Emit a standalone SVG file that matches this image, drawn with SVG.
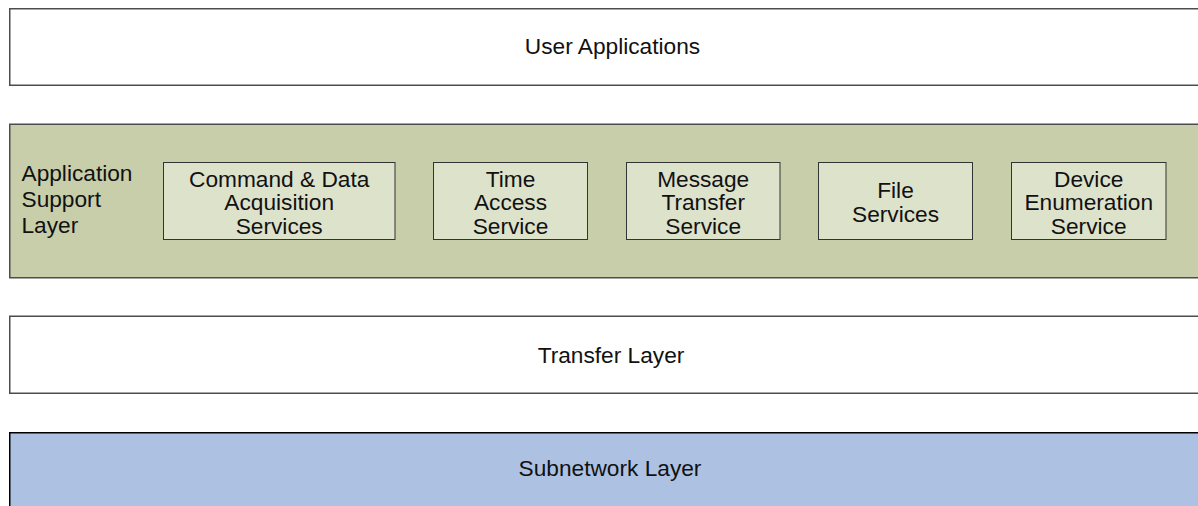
<svg xmlns="http://www.w3.org/2000/svg" width="1198" height="506" viewBox="0 0 1198 506">
<style>
.layer{stroke:#4d4d4d;stroke-width:1.5}
.white{fill:#ffffff}
.green{fill:#c7cea9}
.blue{fill:#adc2e2;stroke:#000000;stroke-width:1.5}
.svc{fill:#dde2cb;stroke:#333333;stroke-width:1}
text{font-family:"Liberation Sans",Arial,sans-serif;font-size:22.7px;fill:#111111}
.c{text-anchor:middle}
</style>
<rect width="1198" height="506" fill="#ffffff"/>
<g id="user-applications">
<rect class="layer white" x="9.75" y="8.75" width="1210" height="76.5"/>
<text class="c" x="612.5" y="54">User Applications</text>
</g>
<g id="application-support-layer">
<rect class="layer green" x="9.75" y="124.25" width="1210" height="153.5"/>
<text x="21.5"><tspan x="21.5" y="181">Application</tspan><tspan x="21.5" y="207">Support</tspan><tspan x="21.5" y="232.5">Layer</tspan></text>
</g>
<g id="cmd-data-acq">
<rect class="svc" x="163.5" y="162.5" width="231.5" height="77"/>
<text class="c"><tspan x="279.2" y="186.5">Command &amp; Data</tspan><tspan x="279.2" y="210">Acquisition</tspan><tspan x="279.2" y="233.5">Services</tspan></text>
</g>
<g id="time-access">
<rect class="svc" x="433.5" y="162.5" width="154" height="77"/>
<text class="c"><tspan x="510.5" y="186.5">Time</tspan><tspan x="510.5" y="210">Access</tspan><tspan x="510.5" y="233.5">Service</tspan></text>
</g>
<g id="message-transfer">
<rect class="svc" x="626.5" y="162.5" width="153.5" height="77"/>
<text class="c"><tspan x="703.2" y="186.5">Message</tspan><tspan x="703.2" y="210">Transfer</tspan><tspan x="703.2" y="233.5">Service</tspan></text>
</g>
<g id="file-services">
<rect class="svc" x="818.5" y="162.5" width="154" height="77"/>
<text class="c"><tspan x="895.5" y="197.5">File</tspan><tspan x="895.5" y="222">Services</tspan></text>
</g>
<g id="device-enumeration">
<rect class="svc" x="1011.5" y="162.5" width="154.5" height="77"/>
<text class="c"><tspan x="1088.7" y="186.5">Device</tspan><tspan x="1088.7" y="210">Enumeration</tspan><tspan x="1088.7" y="233.5">Service</tspan></text>
</g>
<g id="transfer-layer">
<rect class="layer white" x="9.75" y="316.25" width="1210" height="77"/>
<text class="c" x="611" y="362.5">Transfer Layer</text>
</g>
<g id="subnetwork-layer">
<rect class="blue" x="9.75" y="432.75" width="1210" height="100"/>
<text class="c" x="610" y="476">Subnetwork Layer</text>
</g>
<g id="connectors"></g>
</svg>
